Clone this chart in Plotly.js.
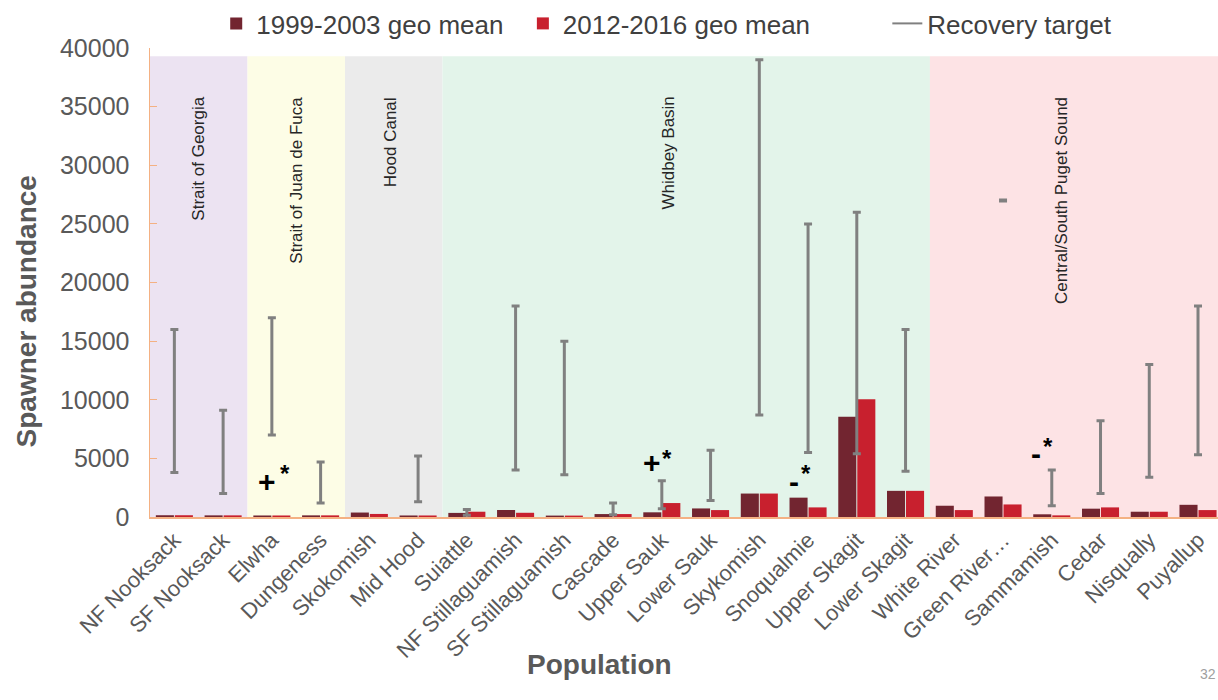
<!DOCTYPE html>
<html>
<head>
<meta charset="utf-8">
<script src="https://cdn.plot.ly/plotly-3.0.1.min.js"></script>
<style>html,body{margin:0;padding:0;background:#fff;}#chart{width:1218px;height:700px;}</style>
</head>
<body>
<div id="chart"></div>
<script>
const categories = ["NF Nooksack","SF Nooksack","Elwha","Dungeness","Skokomish","Mid Hood","Suiattle","NF Stillaguamish","SF Stillaguamish","Cascade","Upper Sauk","Lower Sauk","Skykomish","Snoqualmie","Upper Skagit","Lower Skagit","White River","Green River\u2026","Sammamish","Cedar","Nisqually","Puyallup"];
const geoMean1999 = [150, 140, 130, 140, 380, 130, 350, 600, 120, 250, 400, 730, 2000, 1650, 8550, 2230, 960, 1750, 230, 710, 450, 1040];
const geoMean2012 = [150, 140, 130, 140, 260, 130, 450, 360, 120, 250, 1190, 590, 2000, 820, 10050, 2230, 590, 1070, 140, 820, 450, 590];
const targetLow  = [3800, 2000, 7000, 1200, null, 1300, 150, 4000, 3600, 200, 700, 1400, 8700, 5500, 5400, 3900, null, 26960, 950, 2000, 3400, 5300];
const targetHigh = [16000, 9100, 17000, 4700, null, 5200, 650, 18000, 15000, 1200, 3100, 5700, 39000, 25000, 26000, 16000, null, 27040, 4000, 8200, 13000, 18000];
const regionNames = ["Strait of Georgia","Strait of Juan de Fuca","Hood Canal","Whidbey Basin","Central/South Puget Sound"];
const regionStart = [0, 2, 4, 6, 16];
const regionEnd = [1, 3, 5, 15, 21];
const regionColors = ["#ece3f2","#fdfde6","#ebebeb","#e3f4ea","#fde3e5"];
const regionLabelPos = [0.5, 2.5, 4.45, 10.13, 18.2];
const sigCategories = ["Elwha","Upper Sauk","Snoqualmie","Sammamish"];
const sigSymbols = ["+","+","-","-"];

const NB = '\u00a0';
const traces = [
  {type:'bar', name:'1999-2003 geo mean' + NB.repeat(2), x:categories, y:geoMean1999, marker:{color:'#722530'}},
  {type:'bar', name:'2012-2016 geo mean' + NB.repeat(10), x:categories, y:geoMean2012, marker:{color:'#c8202e'}},
  {type:'scatter', mode:'markers', name:'Recovery target', showlegend:false, x:categories, y:targetLow,
   marker:{opacity:0, size:1},
   error_y:{type:'data', symmetric:false, array:targetHigh.map((h,i)=> h==null?null:h-targetLow[i]), arrayminus:targetLow.map(v=>0),
            color:'#808080', thickness:3, width:4}},
  {type:'scatter', mode:'lines', name:'Recovery target', x:[null], y:[null], line:{color:'#808080', width:2}}
];

const shapes = regionNames.map((n,i)=>({type:'rect', xref:'x', yref:'y', layer:'below',
  x0: regionStart[i]-0.5, x1: regionEnd[i]+0.5, y0:0, y1:39300, fillcolor:regionColors[i], line:{width:0}}));

const annotations = regionNames.map((n,i)=>({xref:'x', yref:'y', x:regionLabelPos[i], y:36000, text:n, showarrow:false,
  textangle:-90, yanchor:'top', xanchor:'center', font:{family:'Liberation Sans, Arial', size:17, color:'#262626'}}));

// symbol placement: [y of symbol, xshift symbol, y of star, xshift star]
const sigPlace = [[3050,-5,3700,13],[4660,-10,5000,5],[3050,-14,3700,-2],[5420,-16,6000,-4]];
sigCategories.forEach((c,i)=>{
  const p = sigPlace[i];
  annotations.push({xref:'x', yref:'y', x:c, y:p[0], xshift:p[1], text:'<b>'+sigSymbols[i]+'</b>', showarrow:false,
    font:{family:'Liberation Sans, Arial', size:30, color:'#000'}});
  annotations.push({xref:'x', yref:'y', x:c, y:p[2], xshift:p[3], text:'<b>*</b>', showarrow:false,
    font:{family:'Liberation Sans, Arial', size:24, color:'#000'}});
});

annotations.push({xref:'paper', yref:'paper', x:-0.116, xanchor:'center', y:0.4386, text:'<b>Spawner abundance</b>', textangle:-90, showarrow:false,
  font:{family:'Liberation Sans, Arial', size:28, color:'#595959'}});
annotations.push({xref:'paper', yref:'paper', x:0.4213, xanchor:'center', y:-0.3517, text:'<b>Population</b>', showarrow:false,
  font:{family:'Liberation Sans, Arial', size:28, color:'#595959'}});
annotations.push({xref:'paper', yref:'paper', x:1.0, y:-0.3570, xanchor:'right', text:'32', showarrow:false,
  font:{family:'Liberation Sans, Arial', size:14, color:'#a0a0a0'}});

const layout = {
  width:1218, height:700,
  margin:{l:150, r:0, t:45, b:183},
  paper_bgcolor:'#ffffff', plot_bgcolor:'rgba(0,0,0,0)',
  barmode:'group', bargap:0.22, bargroupgap:0.05,
  font:{family:'Liberation Sans, Arial', color:'#595959'},
  xaxis:{type:'category', range:[-0.5, 21.41], showgrid:false, showline:true, linecolor:'#f4b183', linewidth:1.5,
         ticks:'', tickangle:-45, tickfont:{size:22, color:'#595959'}},
  yaxis:{range:[0, 40000], dtick:5000, tickformat:'d', showgrid:false, zeroline:false, showline:true, linecolor:'#f4b183', linewidth:1.5,
         ticks:'inside', ticklen:7, tickcolor:'#f4b183', tickfont:{size:25, color:'#595959'}, ticklabelstandoff:14},
  legend:{orientation:'h', x:0.062, xanchor:'left', y:1.053, yanchor:'middle', font:{size:26, color:'#404040'}, bgcolor:'rgba(0,0,0,0)'},
  shapes:shapes,
  annotations:annotations
};

Plotly.newPlot('chart', traces, layout, {displayModeBar:false, staticPlot:true});
</script>
</body>
</html>
